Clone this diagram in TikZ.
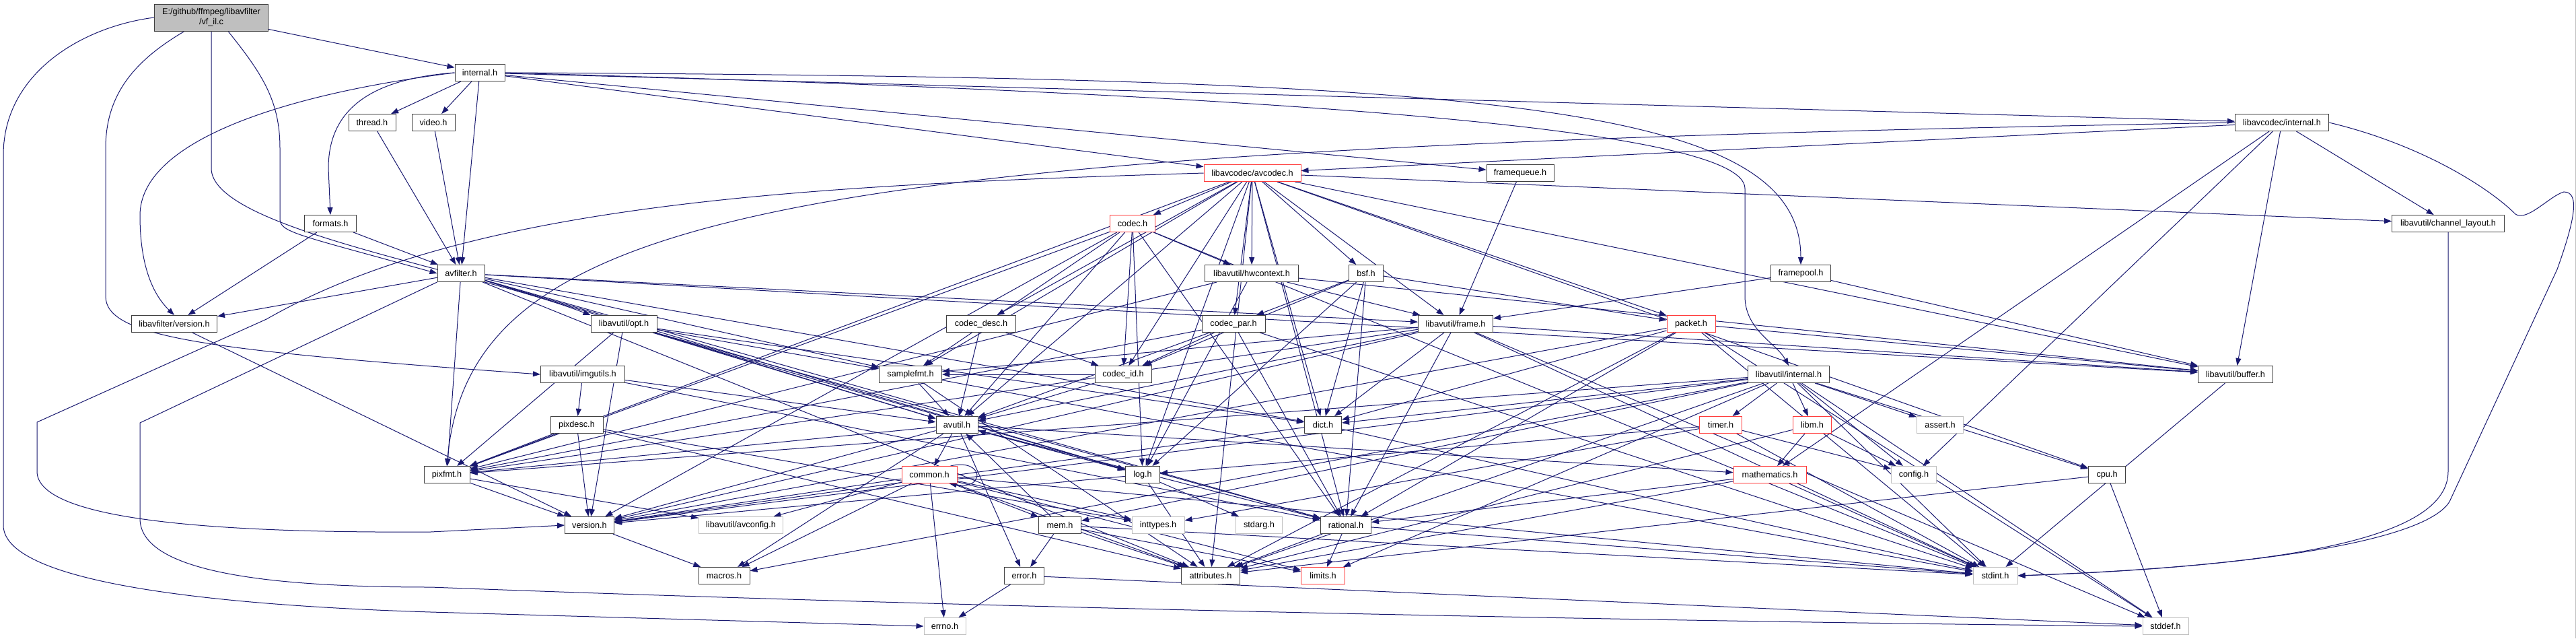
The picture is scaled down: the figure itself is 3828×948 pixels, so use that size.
\documentclass[tikz,border=0pt]{standalone}
\usepackage{fontspec}
\setmainfont{Liberation Sans}
\usetikzlibrary{arrows.meta,positioning,calc}

\definecolor{edgeblue}{RGB}{25,25,112}
\definecolor{nodegray}{RGB}{191,191,191}
\definecolor{truncred}{RGB}{255,60,60}
\pgfdeclarelayer{bg}
\pgfdeclarelayer{edges}
\pgfsetlayers{bg,edges,main}

\tikzset{
  hdr/.style={draw=black!75, fill=white, line width=1pt, minimum height=25pt,
    inner sep=0pt, font=\fontsize{12.7}{15}\selectfont},
  sysh/.style={hdr, draw=nodegray},
  trunc/.style={hdr, draw=truncred},
  root/.style={hdr, fill=nodegray, minimum height=40pt, align=center},
  dep/.style={draw=edgeblue, line width=1pt, -{Triangle[length=11pt,width=8pt]}},
}

\begin{document}
\begin{tikzpicture}[x=1pt,y=-1pt]
    \useasboundingbox (0,0) rectangle (3828,948);
    \begin{pgfonlayer}{bg}
        \fill[white] (0,0) rectangle (3828,948);
        \draw[nodegray, line width=1pt] (3827,0) -- (3827,948);
    \end{pgfonlayer}

    % top of the tree
    \node[root, minimum width=169pt] (vfil) at (314,26) {E:/github/ffmpeg/libavfilter\\/vf\_il.c};
    \node[hdr, minimum width=74pt] (ifl) at (713,108) {internal.h};
    \node[hdr, minimum width=70pt] (thread) at (553,182) {thread.h};
    \node[hdr, minimum width=64pt] (video) at (644,182) {video.h};
    \node[hdr, minimum width=139pt] (lavcint) at (3391,182) {libavcodec/internal.h};
    \node[trunc, minimum width=144pt] (avcodec) at (1861,257) {libavcodec/avcodec.h};
    \node[hdr, minimum width=100pt] (fqueue) at (2259,257) {framequeue.h};
    \node[hdr, minimum width=77pt] (formats) at (491,332) {formats.h};
    \node[trunc, minimum width=67pt] (codec) at (1683,332) {codec.h};
    \node[hdr, minimum width=167pt] (chlayout) at (3638,332) {libavutil/channel\_layout.h};
    \node[hdr, minimum width=70pt] (avfilt) at (685,406) {avfilter.h};
    \node[hdr, minimum width=139pt] (hwctx) at (1860,406) {libavutil/hwcontext.h};
    \node[hdr, minimum width=51pt] (bsf) at (2030,406) {bsf.h};
    \node[hdr, minimum width=89pt] (fpool) at (2676,406) {framepool.h};

    % middle ranks
    \node[hdr, minimum width=127pt] (lavfver) at (259,481) {libavfilter/version.h};
    \node[hdr, minimum width=98pt] (opt) at (927,481) {libavutil/opt.h};
    \node[hdr, minimum width=103pt] (cdesc) at (1458,481) {codec\_desc.h};
    \node[hdr, minimum width=94pt] (cpar) at (1833,481) {codec\_par.h};
    \node[hdr, minimum width=111pt] (frame) at (2163,481) {libavutil/frame.h};
    \node[trunc, minimum width=72pt] (packet) at (2513,481) {packet.h};
    \node[hdr, minimum width=125pt] (imgutils) at (866,556) {libavutil/imgutils.h};
    \node[hdr, minimum width=93pt] (samplefmt) at (1353,556) {samplefmt.h};
    \node[hdr, minimum width=84pt] (codecid) at (1669,556) {codec\_id.h};
    \node[hdr, minimum width=121pt] (lavuint) at (2658,556) {libavutil/internal.h};
    \node[hdr, minimum width=111pt] (buffer) at (3322,556) {libavutil/buffer.h};
    \node[hdr, minimum width=78pt] (pixdesc) at (857,631) {pixdesc.h};
    \node[hdr, minimum width=62pt] (avutil) at (1422,631) {avutil.h};
    \node[hdr, minimum width=55pt] (dict) at (1966,631) {dict.h};
    \node[trunc, minimum width=63pt] (timer) at (2557,631) {timer.h};
    \node[trunc, minimum width=57pt] (libm) at (2693,631) {libm.h};
    \node[sysh, minimum width=69pt] (assert) at (2883,631) {assert.h};

    % bottom ranks
    \node[hdr, minimum width=68pt] (pixfmt) at (664,705) {pixfmt.h};
    \node[trunc, minimum width=82pt] (common) at (1381,705) {common.h};
    \node[hdr, minimum width=51pt] (log) at (1698,705) {log.h};
    \node[trunc, minimum width=108pt] (mathem) at (2630,705) {mathematics.h};
    \node[sysh, minimum width=67pt] (config) at (2844,705) {config.h};
    \node[hdr, minimum width=55pt] (cpu) at (3131,705) {cpu.h};
    \node[hdr, minimum width=73pt] (version) at (876,780) {version.h};
    \node[sysh, minimum width=125pt] (avconfig) at (1101,780) {libavutil/avconfig.h};
    \node[hdr, minimum width=63pt] (mem) at (1575,780) {mem.h};
    \node[sysh, minimum width=78pt] (inttypes) at (1721,780) {inttypes.h};
    \node[sysh, minimum width=69pt] (stdarg) at (1871,780) {stdarg.h};
    \node[hdr, minimum width=75pt] (rational) at (2000,780) {rational.h};
    \node[hdr, minimum width=76pt] (macros) at (1076,855) {macros.h};
    \node[hdr, minimum width=59pt] (error) at (1522,855) {error.h};
    \node[hdr, minimum width=87pt] (attrib) at (1799,855) {attributes.h};
    \node[trunc, minimum width=65pt] (limits) at (1966,855) {limits.h};
    \node[sysh, minimum width=66pt] (stdint) at (2965,855) {stdint.h};
    \node[sysh, minimum width=62pt] (errno) at (1404,930) {errno.h};
    \node[sysh, minimum width=68pt] (stddef) at (3218,930) {stddef.h};

    \begin{pgfonlayer}{edges}
    % routed edges
    \draw[dep] (vfil.west) .. controls (120,40) and (5,110) .. (5,230) -- (5,780)
        .. controls (5,870) and (350,900) .. (640,909) -- (errno.west);
    \draw[dep] ([xshift=-40pt]vfil.south) .. controls (200,90) and (157,140) .. (157,220) -- (157,440)
        .. controls (157,500) and (300,520) .. (imgutils.west);
    \draw[dep] (vfil.south) -- (314,250) .. controls (314,340) and (700,400) .. (opt.north west);
    \draw[dep] ([xshift=25pt]vfil.south) .. controls (390,110) and (416,150) .. (416,220) -- (416,325)
        .. controls (416,345) and (440,348) .. (avfilt.west);
    \draw[dep] (ifl.west) .. controls (540,118) and (488,170) .. (488,250) -- (formats.north);
    \draw[dep] (ifl.west) .. controls (420,140) and (208,210) .. (208,320)
        .. controls (208,400) and (230,440) .. (lavfver.north);
    \draw[dep] (ifl.east) .. controls (2200,115) and (2676,150) .. (fpool.north);
    \draw[dep] (ifl.east) .. controls (1900,140) and (2593,190) .. (2593,280) -- (2593,440)
        .. controls (2593,490) and (2640,510) .. (lavuint.north);
    \draw[dep] (avfilt.south west) -- (208,628) -- (208,770) .. controls (208,850) and (400,872) .. (640,872)
        .. controls (1500,905) and (2600,925) .. (stddef.west);
    \draw[dep] (avcodec.west) .. controls (1200,275) and (700,300) .. (396,474) -- (55,627) -- (55,700)
        .. controls (55,770) and (300,792) .. (640,790) -- (version.west);
    \draw[dep] (lavcint.west) .. controls (1200,220) and (700,300) .. (pixfmt.north);
    \draw[dep] (lavcint.east) .. controls (3600,215) and (3700,280) .. (3738,318)
        .. controls (3755,330) and (3790,290) .. (3810,285) .. controls (3835,285) and (3825,330) .. (3800,400)
        -- (3640,745) .. controls (3600,810) and (3300,845) .. (stdint.east);
    \draw[dep] (chlayout.south) -- (3638,700) .. controls (3638,800) and (3400,840) .. (stdint.east);
    \draw[dep] ([xshift=-10pt]common.north east) .. controls (1462,680) and (1465,728) .. ([xshift=-12pt]common.south east);

    % straight edges, one loop per including header
    \draw[dep] (vfil) -- (ifl);
    \foreach \t in {thread,video,avfilt,fqueue,avcodec,lavcint} \draw[dep] (ifl) -- (\t);
    \draw[dep] (thread) -- (avfilt);
    \draw[dep] (video) -- (avfilt);
    \foreach \t in {avfilt,lavfver} \draw[dep] (formats) -- (\t);
    \foreach \t in {attrib,avutil,buffer,dict,frame,log,samplefmt,pixfmt,rational,lavfver} \draw[dep] (avfilt) -- (\t);
    \draw[dep] (lavfver) -- (version);
    \foreach \t in {buffer,frame} \draw[dep] (fpool) -- (\t);
    \draw[dep] (fqueue) -- (frame);
    \foreach \t in {samplefmt,attrib,avutil,buffer,cpu,chlayout,dict,frame,hwctx,log,pixfmt,rational,bsf,codec,cdesc,cpar,codecid,packet}
        \draw[dep] (avcodec) -- (\t);
    \foreach \t in {buffer,chlayout,mathem,config,avcodec} \draw[dep] (lavcint) -- (\t);
    \foreach \t in {stdint,avutil,hwctx,log,pixfmt,rational,samplefmt,codecid,version} \draw[dep] (codec) -- (\t);
    \foreach \t in {avutil,codecid} \draw[dep] (cdesc) -- (\t);
    \foreach \t in {avutil,samplefmt} \draw[dep] (codecid) -- (\t);
    \foreach \t in {stdint,avutil,rational,pixfmt,codecid} \draw[dep] (cpar) -- (\t);
    \foreach \t in {dict,log,rational,codecid,cpar,packet} \draw[dep] (bsf) -- (\t);
    \foreach \t in {stddef,stdint,attrib,buffer,dict,rational,version} \draw[dep] (packet) -- (\t);
    \foreach \t in {stddef,stdint,avutil,buffer,dict,rational,samplefmt,pixfmt,version} \draw[dep] (frame) -- (\t);
    \foreach \t in {buffer,frame,log,pixfmt} \draw[dep] (hwctx) -- (\t);
    \draw[dep] (buffer) -- (stdint);
    \foreach \t in {stdint,version} \draw[dep] (dict) -- (\t);
    \foreach \t in {rational,avutil,dict,log,pixfmt,samplefmt,version} \draw[dep] (opt) -- (\t);
    \foreach \t in {avutil,pixdesc,rational} \draw[dep] (imgutils) -- (\t);
    \foreach \t in {inttypes,attrib,pixfmt,version} \draw[dep] (pixdesc) -- (\t);
    \foreach \t in {avconfig,version} \draw[dep] (pixfmt) -- (\t);
    \draw[dep] (version) -- (macros);
    \foreach \t in {stdint,avutil,attrib} \draw[dep] (samplefmt) -- (\t);
    \foreach \t in {common,error,rational,version,macros,mathem,log,pixfmt} \draw[dep] (avutil) -- (\t);
    \foreach \t in {errno,inttypes,limits,stdint,attrib,macros,version,avconfig,mem} \draw[dep] (common) -- (\t);
    \foreach \t in {errno,stddef} \draw[dep] (error) -- (\t);
    \foreach \t in {limits,stdint,attrib,error,avutil} \draw[dep] (mem) -- (\t);
    \foreach \t in {stdarg,avutil,attrib,version} \draw[dep] (log) -- (\t);
    \foreach \t in {stdint,limits,attrib} \draw[dep] (rational) -- (\t);
    \foreach \t in {stdint,attrib,rational} \draw[dep] (mathem) -- (\t);
    \foreach \t in {stddef,attrib} \draw[dep] (cpu) -- (\t);
    \foreach \t in {limits,stdint,stddef,assert,config,attrib,timer,cpu,dict,macros,mem,pixfmt,version,libm}
        \draw[dep] (lavuint) -- (\t);
    \foreach \t in {stdint,inttypes,config,log} \draw[dep] (timer) -- (\t);
    \foreach \t in {config,attrib,mathem} \draw[dep] (libm) -- (\t);
    \end{pgfonlayer}
\end{tikzpicture}
\end{document}
